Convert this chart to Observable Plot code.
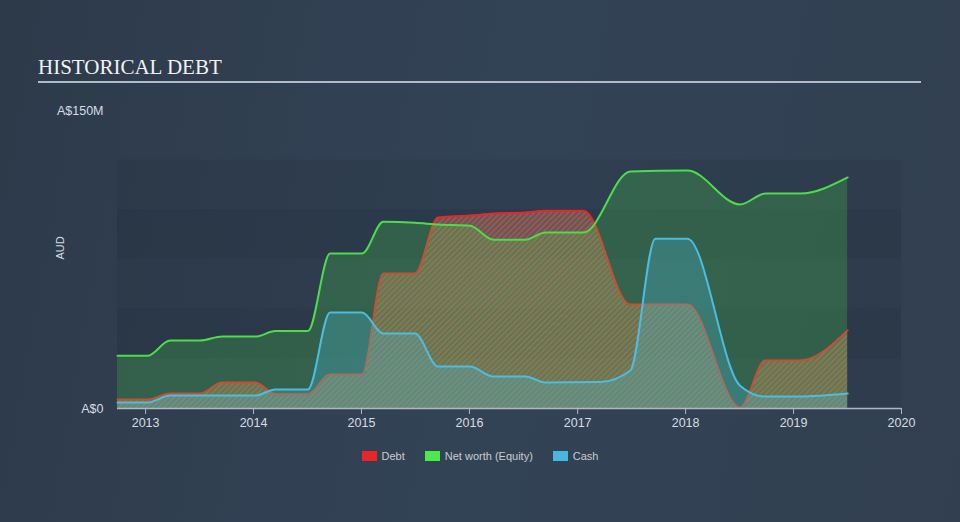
<!DOCTYPE html>
<html>
<head>
<meta charset="utf-8">
<script src="https://cdn.jsdelivr.net/npm/d3@7"></script>
<script src="https://cdn.jsdelivr.net/npm/@observablehq/plot@0.6"></script>
<style>
  html, body { margin: 0; padding: 0; }
  body {
    width: 960px; height: 522px; overflow: hidden; position: relative;
    background: linear-gradient(100deg, #2d3a4a 0%, #334356 50%, #313f50 100%);
    font-family: "Liberation Sans", Arial, sans-serif;
  }
  #title {
    position: absolute; left: 38px; top: 55px;
    font-family: "Liberation Serif", "Times New Roman", serif;
    font-size: 21px; color: #f2f2f2;
  }
  #rule { position: absolute; left: 38px; top: 81px; width: 883px; height: 1.5px; background: #b4bac2; }
  #chart { position: absolute; left: 0; top: 95px; }
  #legend {
    position: absolute; top: 450px; left: 0; width: 960px;
    display: flex; justify-content: center; gap: 0; font-size: 11px; color: #c8ccd2;
  }
  .item { display: flex; align-items: center; margin: 0 10px; }
  .sw { width: 15px; height: 10px; margin-right: 5px; }
</style>
</head>
<body>
<div id="title">HISTORICAL DEBT</div>
<div id="rule"></div>
<div id="chart"></div>
<div id="legend"></div>
<script>
// ---- data (A$ millions) ----
const equityDates = ["2012-09-28","2013-01-07","2013-03-25","2013-07-04","2013-09-17","2014-01-07","2014-03-16","2014-07-04","2014-09-17","2015-01-03","2015-03-16","2015-07-01","2015-09-17","2016-01-03","2016-03-22","2016-07-08","2016-09-14","2017-01-21","2017-06-28","2018-01-07","2018-07-04","2018-09-28","2019-01-24","2019-07-03"];
const equityValues = [26.5,26.5,34.2,34.2,36.2,36.2,39.0,39.0,78.0,78.0,94.0,93.5,92.6,92.0,85.0,85.0,88.6,88.6,119.3,119.8,102.7,108.2,108.2,116.3];

const debtDates = ["2012-09-28","2013-01-07","2013-03-25","2013-07-04","2013-09-17","2014-01-07","2014-03-16","2014-07-04","2014-09-17","2015-01-03","2015-03-16","2015-07-01","2015-09-17","2016-01-03","2016-03-22","2016-07-08","2016-09-14","2017-01-21","2017-06-28","2018-01-07","2018-07-04","2018-09-28","2019-01-24","2019-07-03"];
const debtValues = [4.5,4.5,7.5,7.5,13.1,13.1,7.2,7.2,17.1,17.1,68.0,68.0,96.1,97.1,98.1,98.6,99.6,99.6,52.3,52.3,0.5,24.2,24.2,39.3];

const cashDates = ["2012-09-28","2013-01-07","2013-03-25","2014-01-07","2014-03-16","2014-07-04","2014-09-17","2015-01-03","2015-03-16","2015-07-01","2015-09-17","2016-01-03","2016-03-22","2016-07-08","2016-09-14","2017-03-18","2017-06-28","2017-09-21","2018-01-07","2018-07-04","2018-09-28","2019-01-24","2019-07-03"];
const cashValues = [3.0,3.0,6.5,6.5,9.6,9.6,48.3,48.3,37.7,37.7,21.1,21.1,16.1,16.1,13.1,13.3,19.1,85.5,85.5,11.5,6.0,6.0,7.5];

const yearTicks = [2013,2014,2015,2016,2017,2018,2019,2020];
const yTickValues = [0, 150];
const yTickLabels = ["A$0", "A$150M"];
const bandEdges = [0, 25, 50, 75, 100];

const seriesNames = ["Debt", "Net worth (Equity)", "Cash"];
const seriesColors = ["#e8262a", "#4de84d", "#47b7de"];

// ---- tables ----
const toRows = (dates, values) => dates.map((d, i) => ({date: new Date(d), value: values[i]}));
const equity = toRows(equityDates, equityValues);
const debt = toRows(debtDates, debtValues);
const cash = toRows(cashDates, cashValues);
const xStart = new Date("2012-09-28");
const xEnd = new Date("2020-01-01");
const bands = bandEdges.map((b, i) => ({y1: b, y2: b + 25, i}));

const chart = Plot.plot({
  width: 960,
  height: 345,
  marginLeft: 117,
  marginRight: 59,
  marginTop: 15,
  marginBottom: 32,
  style: {background: "transparent", color: "#d8dce2", fontFamily: "'Liberation Sans', Arial, sans-serif", fontSize: "12px"},
  x: {type: "utc", domain: [xStart, xEnd]},
  y: {domain: [0, 150]},
  marks: [
    Plot.rectY(bands, {x1: xStart, x2: xEnd, y1: "y1", y2: "y2", fill: "#1f2a37",
      fillOpacity: d => (d.i % 2 === 0 ? 0.16 : 0.32)}),
    // debt (hatched)
    Plot.areaY(debt, {x: "date", y: "value", curve: "monotone-x", fill: "url(#hatch)"}),
    Plot.lineY(debt, {x: "date", y: "value", curve: "monotone-x", stroke: seriesColors[0], strokeWidth: 2}),
    // equity
    Plot.areaY(equity, {x: "date", y: "value", curve: "monotone-x", fill: "#4de84d", fillOpacity: 0.22}),
    Plot.lineY(equity, {x: "date", y: "value", curve: "monotone-x", stroke: "#4ddc4a", strokeWidth: 2}),
    // cash
    Plot.areaY(cash, {x: "date", y: "value", curve: "monotone-x", fill: "#4bbde0", fillOpacity: 0.28}),
    Plot.lineY(cash, {x: "date", y: "value", curve: "monotone-x", stroke: "#4bbde0", strokeWidth: 2}),
    // axes
    Plot.ruleY([0], {stroke: "#b0b8c2", strokeWidth: 1.5}),
    Plot.axisX({ticks: yearTicks.map(y => new Date(Date.UTC(y, 0, 1))), tickFormat: d3.utcFormat("%Y"),
      tickSize: 6, tickPadding: 4, stroke: "#b0b8c2", label: null, fontSize: 12.5}),
    Plot.axisY({ticks: yTickValues, tickFormat: (d) => yTickLabels[yTickValues.indexOf(d)],
      tickSize: 0, tickPadding: 14, label: null, fontSize: 12.5}),
    Plot.text(["AUD"], {frameAnchor: "left", dx: -57, rotate: -90, fontSize: 11, fill: "#d8dce2"})
  ]
});

// hatch pattern definition
const svg = d3.select(chart);
const defs = svg.insert("defs", ":first-child");
const pat = defs.append("pattern")
  .attr("id", "hatch").attr("patternUnits", "userSpaceOnUse")
  .attr("width", 4).attr("height", 4)
  .attr("patternTransform", "rotate(45)");
pat.append("rect").attr("width", 4).attr("height", 4).attr("fill", "#c0c4b8").attr("fill-opacity", 0.25);
pat.append("rect").attr("x", 0).attr("y", 0).attr("width", 2).attr("height", 4)
  .attr("fill", "#ec4a2a").attr("fill-opacity", 0.58);

document.getElementById("chart").appendChild(chart);

// legend
const legend = document.getElementById("legend");
seriesNames.forEach((name, i) => {
  const item = document.createElement("div");
  item.className = "item";
  const sw = document.createElement("div");
  sw.className = "sw";
  sw.style.background = seriesColors[i];
  const label = document.createElement("span");
  label.textContent = name;
  item.appendChild(sw);
  item.appendChild(label);
  legend.appendChild(item);
});
</script>
</body>
</html>
